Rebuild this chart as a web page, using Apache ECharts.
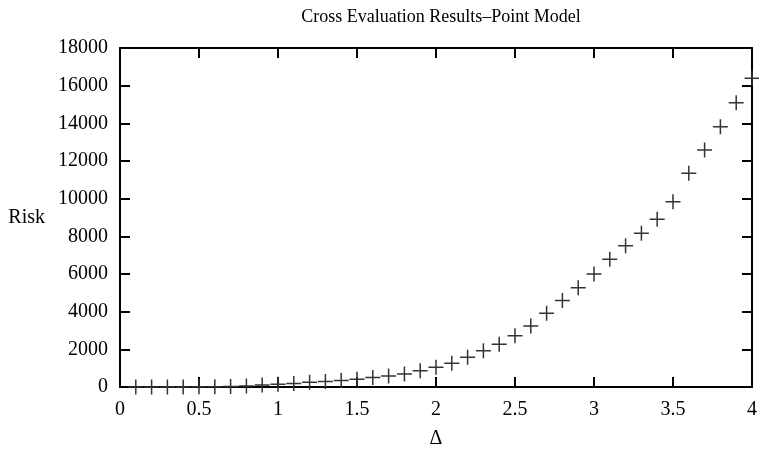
<!DOCTYPE html>
<html>
<head>
<meta charset="utf-8">
<script src="https://cdn.jsdelivr.net/npm/echarts@6/dist/echarts.min.js"></script>
<style>
  html, body { margin: 0; padding: 0; background: #fff; }
  #main { width: 759px; height: 451px; }
</style>
</head>
<body>
<div id="main"></div>
<script>
// values
const deltas = [0.1, 0.2, 0.3, 0.4, 0.5, 0.6, 0.7, 0.8, 0.9, 1.0,
  1.1, 1.2, 1.3, 1.4, 1.5, 1.6, 1.7, 1.8, 1.9, 2.0,
  2.1, 2.2, 2.3, 2.4, 2.5, 2.6, 2.7, 2.8, 2.9, 3.0,
  3.1, 3.2, 3.3, 3.4, 3.5, 3.6, 3.7, 3.8, 3.9, 4.0];
const risk = [0, 1, 3, 6, 10, 17, 30, 50, 100, 150,
  190, 250, 290, 340, 410, 510, 584, 690, 866, 1044,
  1257, 1575, 1929, 2266, 2726, 3240, 3912, 4590, 5274, 6000,
  6779, 7505, 8160, 8903, 9841, 11345, 12585, 13823, 15096, 16392];

const serif = '"Liberation Serif", "DejaVu Serif", serif';
const chart = echarts.init(document.getElementById('main'), null, { renderer: 'canvas' });

const plus = 'path://M0,4.5 H10 V5.5 H0 Z M4.5,0 H5.5 V10 H4.5 Z';

const axisCommon = {
  axisLine: { show: true, onZero: false, lineStyle: { color: '#000', width: 2 } },
  axisTick: { show: true, inside: true, length: 10, lineStyle: { color: '#000', width: 2 } },
  splitLine: { show: false }
};

var option = {
  animation: false,
  backgroundColor: '#fff',
  title: {
    text: 'Cross Evaluation Results\u2013Point Model',
    left: 436,
    textAlign: 'center',
    top: 3,
    textStyle: { fontFamily: serif, fontSize: 18, fontWeight: 'normal', color: '#000' }
  },
  grid: { left: 120, right: 7, top: 48, bottom: 64, outerBoundsMode: 'none', containLabel: false },
  xAxis: [
    Object.assign({
      type: 'value', min: 0, max: 4, interval: 0.5,
      name: '\u0394', nameLocation: 'middle', nameGap: 42,
      nameTextStyle: { fontFamily: serif, fontSize: 20, color: '#000' },
      axisLabel: { fontFamily: serif, fontSize: 20, color: '#000', margin: 13, formatter: v => String(v) }
    }, axisCommon),
    Object.assign({
      type: 'value', min: 0, max: 4, interval: 0.5, position: 'top',
      axisLabel: { show: false }
    }, axisCommon)
  ],
  yAxis: [
    Object.assign({
      type: 'value', min: 0, max: 18000, interval: 2000,
      name: 'Risk', nameLocation: 'middle', nameRotate: 0, nameGap: 75,
      nameTextStyle: { fontFamily: serif, fontSize: 20, color: '#000' },
      axisLabel: { fontFamily: serif, fontSize: 20, color: '#000', margin: 12, formatter: v => String(v) }
    }, axisCommon),
    Object.assign({
      type: 'value', min: 0, max: 18000, interval: 2000, position: 'right',
      axisLabel: { show: false }
    }, axisCommon)
  ],
  series: [{
    type: 'scatter',
    data: deltas.map((d, i) => [d, risk[i]]),
    symbol: plus,
    symbolSize: 15,
    clip: false,
    itemStyle: { color: '#333', opacity: 1 }
  }]
};

chart.setOption(option);
</script>
</body>
</html>
